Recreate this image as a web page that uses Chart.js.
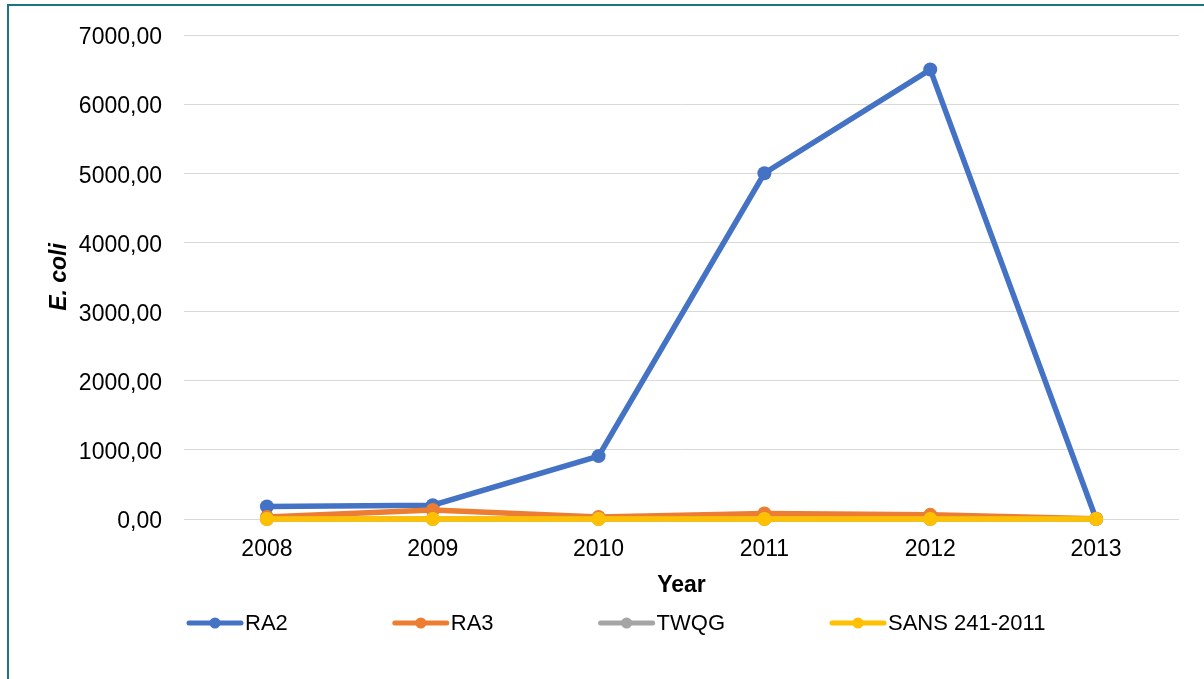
<!DOCTYPE html>
<html>
<head>
<meta charset="utf-8">
<script src="https://cdn.jsdelivr.net/npm/chart.js@4"></script>
<style>
  html, body { margin: 0; padding: 0; background: #fff; overflow: hidden; }
  #frame {
    position: absolute; left: 7px; top: 4px;
    border-left: 2px solid #17767f; border-top: 2px solid #17767f;
  }
  #box { width: 1195px; height: 673px; }
</style>
</head>
<body>
<div id="frame"><div id="box"><canvas id="chart"></canvas></div></div>
<script>
const years = ['2008', '2009', '2010', '2011', '2012', '2013'];
const ra2 = [180, 200, 910, 5000, 6500, 0];
const ra3 = [30, 130, 30, 80, 60, 5];
const twqg = [0, 0, 0, 0, 0, 0];
const sans = [0, 0, 0, 0, 0, 0];
const yTicks = [0, 1000, 2000, 3000, 4000, 5000, 6000, 7000];

const FONT = "'Liberation Sans', Arial, sans-serif";

// Excel-style legend: a short line with a dot, then the label
const lineLegend = {
  id: 'lineLegend',
  afterDraw(chart) {
    const ctx = chart.ctx;
    const y = chart.scales.x.bottom + 14;
    let x = chart.chartArea.left + 3;
    ctx.save();
    ctx.font = '22px ' + FONT;
    ctx.textBaseline = 'middle';
    chart.data.datasets.forEach(ds => {
      ctx.strokeStyle = ds.borderColor;
      ctx.lineWidth = 5;
      ctx.lineCap = 'round';
      ctx.beginPath();
      ctx.moveTo(x + 2, y);
      ctx.lineTo(x + 54, y);
      ctx.stroke();
      ctx.fillStyle = ds.borderColor;
      ctx.beginPath();
      ctx.arc(x + 28, y, 5.5, 0, Math.PI * 2);
      ctx.fill();
      ctx.fillStyle = '#000';
      ctx.fillText(ds.label, x + 58, y + 1);
      x += 58 + ctx.measureText(ds.label).width + 105;
    });
    ctx.restore();
  }
};

function series(label, data, color, order) {
  return {
    label, data, order,
    borderColor: color,
    backgroundColor: color,
    pointBackgroundColor: color,
    pointBorderColor: color,
    borderWidth: 5.5,
    pointRadius: 7,
    pointBorderWidth: 0,
    tension: 0,
    clip: false
  };
}

new Chart(document.getElementById('chart'), {
  type: 'line',
  data: {
    labels: years,
    datasets: [
      series('RA2', ra2, '#4472c4', 4),
      series('RA3', ra3, '#ed7d31', 3),
      series('TWQG', twqg, '#a5a5a5', 2),
      series('SANS 241-2011', sans, '#ffc000', 1)
    ]
  },
  options: {
    responsive: true,
    maintainAspectRatio: false,
    animation: false,
    events: [],
    layout: { padding: { left: 0, top: 29, right: 25, bottom: 70 } },
    plugins: {
      legend: { display: false },
      tooltip: { enabled: false }
    },
    scales: {
      x: {
        offset: true,
        grid: { display: false, drawTicks: false },
        border: { display: false },
        ticks: { color: '#000', padding: 17, font: { family: FONT, size: 23 } },
        title: {
          display: true,
          text: 'Year',
          color: '#000',
          padding: { top: 0, bottom: 10 },
          font: { family: FONT, size: 23, weight: 'bold' }
        },
        afterFit(scale) { scale.height = 90; }
      },
      y: {
        min: 0,
        max: 7000,
        afterBuildTicks(scale) { scale.ticks = yTicks.map(v => ({ value: v })); },
        grid: { color: '#d9d9d9', lineWidth: 1, drawTicks: false },
        border: { display: false },
        ticks: {
          color: '#000',
          padding: 22,
          labelOffset: 3,
          font: { family: FONT, size: 23, lineHeight: 1 },
          callback: v => v.toFixed(2).replace('.', ',')
        },
        title: {
          display: true,
          text: 'E. coli',
          color: '#000',
          padding: { top: 37, bottom: 0 },
          font: { family: FONT, size: 23, weight: 'bold', style: 'italic' }
        },
        afterFit(scale) {
          scale.width = 175;
          scale.paddingTop = 0;
        }
      }
    }
  },
  plugins: [lineLegend]
});
</script>
</body>
</html>
